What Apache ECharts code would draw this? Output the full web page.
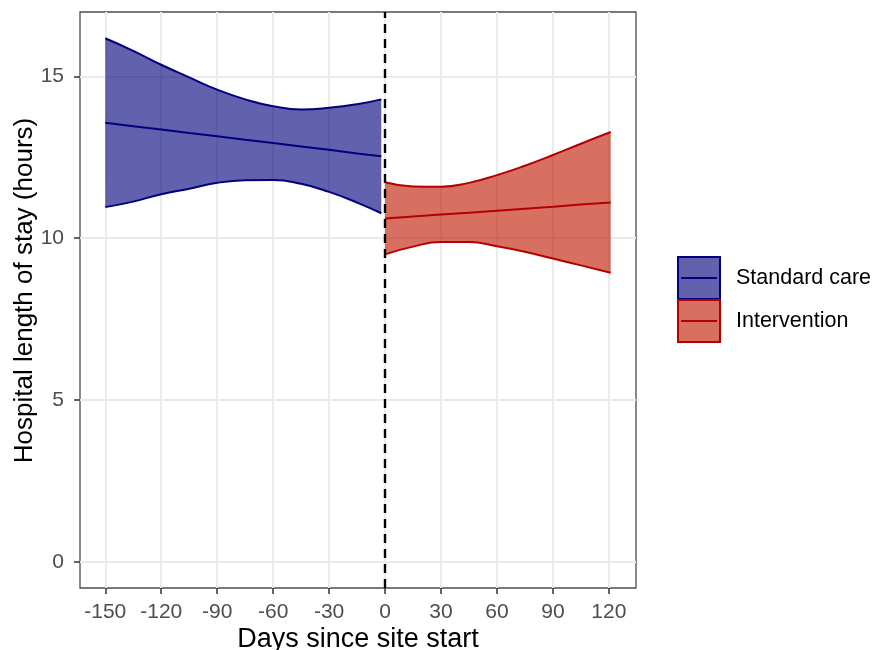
<!DOCTYPE html>
<html>
<head>
<meta charset="utf-8">
<script src="https://cdn.jsdelivr.net/npm/echarts@6/dist/echarts.min.js"></script>
<style>
html,body{margin:0;padding:0;background:#fff;}
#chart{width:874px;height:650px;}
</style>
</head>
<body>
<div id="chart"></div>
<script>
// ---- data ----
const xTicks = [-150, -120, -90, -60, -30, 0, 30, 60, 90, 120];
const yTicks = [0, 5, 10, 15];

const daysStandard  = [-150, -135, -120, -105, -90, -75, -60, -45, -30, -15, -2];
const meanStandard  = [13.57, 13.46, 13.36, 13.25, 13.15, 13.04, 12.94, 12.83, 12.73, 12.62, 12.53];
const upperStandard = [16.18, 15.79, 15.36, 14.97, 14.59, 14.29, 14.08, 13.98, 14.03, 14.14, 14.29];
const lowerStandard = [10.96, 11.13, 11.36, 11.53, 11.71, 11.79, 11.80, 11.68, 11.43, 11.10, 10.77];

const daysIntervention  = [0, 15, 30, 45, 60, 75, 90, 105, 121];
const meanIntervention  = [10.61, 10.67, 10.73, 10.79, 10.85, 10.91, 10.97, 11.04, 11.10];
const upperIntervention = [11.73, 11.60, 11.59, 11.71, 11.95, 12.24, 12.57, 12.92, 13.28];
const lowerIntervention = [9.50, 9.74, 9.88, 9.88, 9.75, 9.58, 9.37, 9.16, 8.93];

const groupNames = ['Standard care', 'Intervention'];

// ---- build ----
// value first, day second, so that stacking happens on the value dimension
const pairs = (xs, ys) => xs.map((x, i) => [ys[i], x]);
const diffPairs = (xs, up, lo) => xs.map((x, i) => [+(up[i] - lo[i]).toFixed(3), x]);

const BLUE_LINE = '#000080', BLUE_FILL = 'rgba(0,0,122,0.62)';
const RED_LINE = '#B40000', RED_FILL = 'rgba(192,24,0,0.62)';

function bandSeries(name, days, mean, up, lo, lineC, fillC, stackId) {
  const ls = {color: lineC, width: 2};
  const common = {type: 'line', symbol: 'none', silent: true,
    dimensions: ['v', 'day'], encode: {x: 'day', y: 'v'}, itemStyle: {color: lineC}};
  return [
    Object.assign({name: name, stack: stackId, data: pairs(days, lo), smooth: 0.5, lineStyle: ls, z: 3}, common),
    Object.assign({name: name, stack: stackId, data: diffPairs(days, up, lo), smooth: 0.5, lineStyle: ls,
      areaStyle: {color: fillC, opacity: 1}, z: 3}, common),
    Object.assign({name: name, data: pairs(days, mean), lineStyle: ls, z: 4}, common)
  ];
}

const series = [].concat(
  bandSeries(groupNames[0], daysStandard, meanStandard, upperStandard, lowerStandard, BLUE_LINE, BLUE_FILL, 'sc'),
  bandSeries(groupNames[1], daysIntervention, meanIntervention, upperIntervention, lowerIntervention, RED_LINE, RED_FILL, 'iv')
);
series[series.length - 1].markLine = {
  symbol: 'none', silent: true, animation: false,
  label: {show: false},
  lineStyle: {type: [9, 6], color: '#000', width: 2.4},
  data: [{xAxis: 0}]
};

const FONT = 'Liberation Sans, Arial, sans-serif';
const chart = echarts.init(document.getElementById('chart'), null, {renderer: 'canvas'});
chart.setOption({
  animation: false,
  backgroundColor: '#fff',
  grid: {left: 80, right: 238, top: 12, bottom: 62, show: true, borderColor: '#4d4d4d', borderWidth: 1.3,
    backgroundColor: 'transparent', containLabel: false, outerBoundsMode: 'none'},
  xAxis: {
    type: 'value', min: -163.55, max: 134.55,
    name: 'Days since site start', nameLocation: 'middle', nameGap: 38, nameMoveOverlap: false,
    nameTextStyle: {fontFamily: FONT, fontSize: 27, color: '#000'},
    axisLine: {show: false, onZero: false},
    axisTick: {show: true, inside: false, length: 6, lineStyle: {color: '#333', width: 1.5}, customValues: xTicks},
    axisLabel: {fontFamily: FONT, fontSize: 21, color: '#4d4d4d', margin: 14, customValues: xTicks},
    splitLine: {show: true, lineStyle: {color: '#ebebeb', width: 2}}
  },
  yAxis: {
    type: 'value', min: -0.81, max: 16.99,
    name: 'Hospital length of stay (hours)', nameLocation: 'middle', nameGap: 42, nameMoveOverlap: false,
    nameTextStyle: {fontFamily: FONT, fontSize: 26, color: '#000', padding: [0, 0, 0, 19]},
    axisLine: {show: false, onZero: false},
    axisTick: {show: true, inside: false, length: 6, lineStyle: {color: '#333', width: 1.5}, customValues: yTicks},
    axisLabel: {fontFamily: FONT, fontSize: 21, color: '#4d4d4d', margin: 16, customValues: yTicks},
    splitLine: {show: true, lineStyle: {color: '#ebebeb', width: 2}}
  },
  series: series,
  graphic: [
    {type: 'rect', shape: {x: 678, y: 257, width: 42, height: 42}, style: {fill: BLUE_FILL, stroke: BLUE_LINE, lineWidth: 2}},
    {type: 'line', shape: {x1: 681, y1: 278, x2: 717, y2: 278}, style: {stroke: BLUE_LINE, lineWidth: 2}},
    {type: 'rect', shape: {x: 678, y: 300, width: 42, height: 42}, style: {fill: RED_FILL, stroke: RED_LINE, lineWidth: 2}},
    {type: 'line', shape: {x1: 681, y1: 321, x2: 717, y2: 321}, style: {stroke: RED_LINE, lineWidth: 2}},
    {type: 'text', x: 736, y: 278, style: {text: groupNames[0], font: '21.5px ' + FONT, fill: '#000', textVerticalAlign: 'middle'}},
    {type: 'text', x: 736, y: 321, style: {text: groupNames[1], font: '21.5px ' + FONT, fill: '#000', textVerticalAlign: 'middle'}}
  ]
});
</script>
</body>
</html>
